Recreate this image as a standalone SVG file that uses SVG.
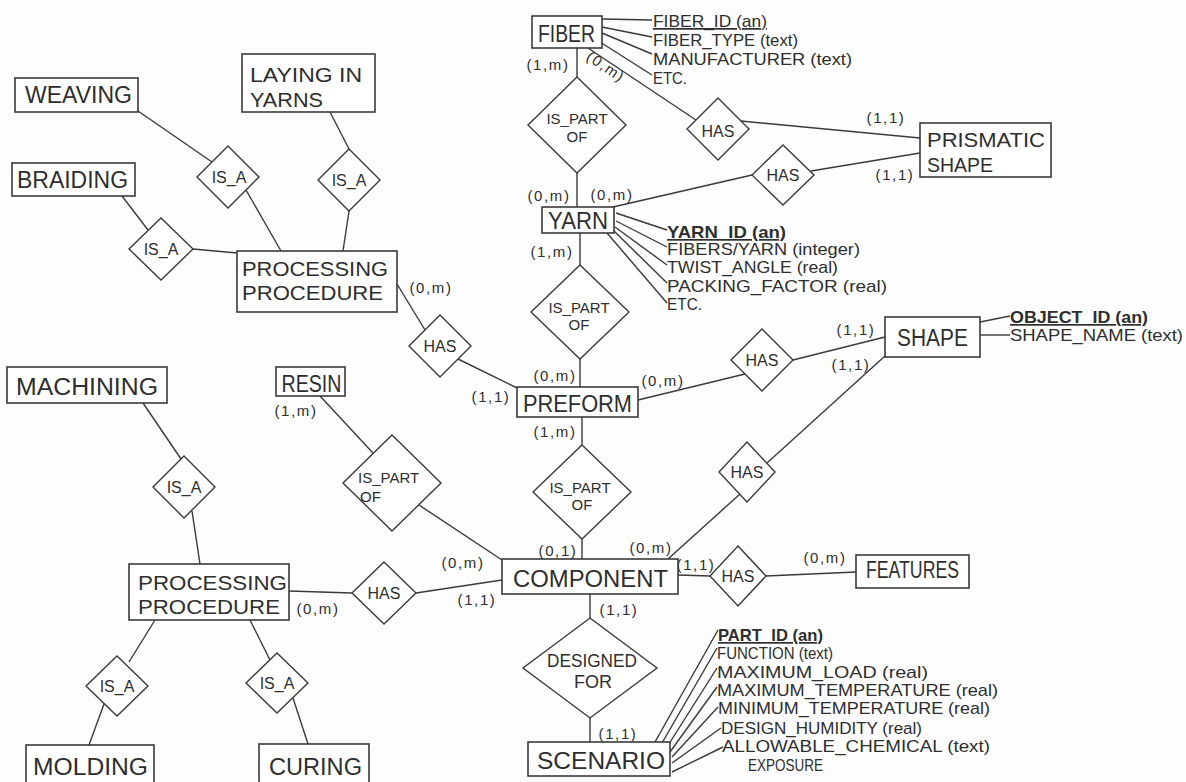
<svg xmlns="http://www.w3.org/2000/svg" width="1186" height="782" viewBox="0 0 1186 782">
<style>
text{font-family:"Liberation Sans",Arial,sans-serif;fill:#2e2e2e}
.e rect{fill:#fff;stroke:#3a3a3a;stroke-width:1.6}
.e text{font-size:23px}
.e text.t{font-size:20px}
.r polygon{fill:#fff;stroke:#3a3a3a;stroke-width:1.4}
.r text{font-size:16px;text-anchor:middle}
.r text.s{font-size:15px}
.conn line{stroke:#3a3a3a;stroke-width:1.4}
.k{font-size:15px;letter-spacing:1.6px;text-anchor:middle}
.a{font-size:17px}
.u{text-decoration:underline}
.b{font-weight:bold}
.m{text-anchor:middle}
</style>
<rect x="0" y="0" width="1186" height="782" fill="#fdfdfd"/>
<g id="connectors" class="conn">
<line x1="577" y1="48" x2="577" y2="77"/>
<line x1="577" y1="173" x2="577" y2="207"/>
<line x1="588" y1="48" x2="696" y2="120"/>
<line x1="741" y1="121" x2="920" y2="138"/>
<line x1="613" y1="207" x2="752" y2="175"/>
<line x1="811" y1="171" x2="920" y2="153"/>
<line x1="580" y1="233" x2="580" y2="265"/>
<line x1="580" y1="359" x2="580" y2="387"/>
<line x1="638" y1="400" x2="745" y2="374"/>
<line x1="793" y1="360" x2="885" y2="337"/>
<line x1="885" y1="356" x2="767" y2="463"/>
<line x1="740" y1="494" x2="668" y2="559"/>
<line x1="678" y1="575" x2="710" y2="576"/>
<line x1="766" y1="576" x2="856" y2="572"/>
<line x1="582" y1="417" x2="582" y2="445"/>
<line x1="582" y1="539" x2="582" y2="559"/>
<line x1="590" y1="594" x2="590" y2="618"/>
<line x1="590" y1="718" x2="590" y2="742"/>
<line x1="320" y1="396" x2="373" y2="453"/>
<line x1="419" y1="505" x2="502" y2="560"/>
<line x1="397" y1="284" x2="425" y2="330"/>
<line x1="458" y1="359" x2="517" y2="388"/>
<line x1="289" y1="591" x2="352" y2="593"/>
<line x1="416" y1="593" x2="502" y2="580"/>
<line x1="138" y1="111" x2="212" y2="162"/>
<line x1="246" y1="190" x2="281" y2="251"/>
<line x1="330" y1="112" x2="349" y2="149"/>
<line x1="349" y1="211" x2="343" y2="251"/>
<line x1="122" y1="196" x2="148" y2="230"/>
<line x1="193" y1="249" x2="237" y2="253"/>
<line x1="143" y1="403" x2="181" y2="459"/>
<line x1="192" y1="511" x2="200" y2="564"/>
<line x1="155" y1="620" x2="129" y2="662"/>
<line x1="104" y1="704" x2="89" y2="745"/>
<line x1="250" y1="620" x2="270" y2="660"/>
<line x1="293" y1="698" x2="308" y2="744"/>
<line x1="602" y1="19" x2="652" y2="20"/>
<line x1="602" y1="27" x2="652" y2="37"/>
<line x1="602" y1="33" x2="652" y2="54"/>
<line x1="600" y1="42" x2="652" y2="75"/>
<line x1="616" y1="213" x2="667" y2="230"/>
<line x1="616" y1="221" x2="667" y2="247"/>
<line x1="615" y1="227" x2="667" y2="265"/>
<line x1="614" y1="231" x2="667" y2="283"/>
<line x1="607" y1="233" x2="667" y2="303"/>
<line x1="980" y1="322" x2="1010" y2="316"/>
<line x1="980" y1="335" x2="1010" y2="335"/>
<line x1="655" y1="742" x2="718" y2="630"/>
<line x1="662" y1="743" x2="717" y2="648"/>
<line x1="667" y1="747" x2="717" y2="668"/>
<line x1="670" y1="752" x2="717" y2="687"/>
<line x1="672" y1="757" x2="718" y2="707"/>
<line x1="672" y1="763" x2="721" y2="728"/>
<line x1="672" y1="772" x2="723" y2="747"/>
</g>
<g id="cardinalities">
<text class="k" x="548" y="70">(1,m)</text>
<text class="k" transform="translate(603,71) rotate(34)">(0,m)</text>
<text class="k" x="549" y="201">(0,m)</text>
<text class="k" x="612" y="200">(0,m)</text>
<text class="k" x="552" y="257">(1,m)</text>
<text class="k" x="886" y="123">(1,1)</text>
<text class="k" x="895" y="180">(1,1)</text>
<text class="k" x="856" y="335">(1,1)</text>
<text class="k" x="851" y="370">(1,1)</text>
<text class="k" x="555" y="381">(0,m)</text>
<text class="k" x="663" y="386">(0,m)</text>
<text class="k" x="555" y="437">(1,m)</text>
<text class="k" x="431" y="293">(0,m)</text>
<text class="k" x="491" y="402">(1,1)</text>
<text class="k" x="558" y="556">(0,1)</text>
<text class="k" x="651" y="553">(0,m)</text>
<text class="k" x="463" y="568">(0,m)</text>
<text class="k" x="477" y="605">(1,1)</text>
<text class="k" x="619" y="615">(1,1)</text>
<text class="k" x="696" y="570">(1,1)</text>
<text class="k" x="825" y="563">(0,m)</text>
<text class="k" x="618" y="739">(1,1)</text>
<text class="k" x="296" y="416">(1,m)</text>
<text class="k" x="318" y="614">(0,m)</text>
</g>
<g id="attributes" class="a">
<text class="u" x="653" y="27" textLength="114" lengthAdjust="spacingAndGlyphs">FIBER_ID (an)</text>
<text x="653" y="46" textLength="145" lengthAdjust="spacingAndGlyphs">FIBER_TYPE (text)</text>
<text x="653" y="65" textLength="199" lengthAdjust="spacingAndGlyphs">MANUFACTURER (text)</text>
<text x="653" y="84" textLength="34" lengthAdjust="spacingAndGlyphs">ETC.</text>
<text class="u b" x="667" y="238" textLength="119" lengthAdjust="spacingAndGlyphs">YARN_ID (an)</text>
<text x="667" y="255" textLength="193" lengthAdjust="spacingAndGlyphs">FIBERS/YARN (integer)</text>
<text x="667" y="273" textLength="171" lengthAdjust="spacingAndGlyphs">TWIST_ANGLE (real)</text>
<text x="667" y="292" textLength="220" lengthAdjust="spacingAndGlyphs">PACKING_FACTOR (real)</text>
<text x="667" y="310" textLength="35" lengthAdjust="spacingAndGlyphs">ETC.</text>
<text class="u b" x="1010" y="323" textLength="138" lengthAdjust="spacingAndGlyphs">OBJECT_ID (an)</text>
<text x="1010" y="341" textLength="173" lengthAdjust="spacingAndGlyphs">SHAPE_NAME (text)</text>
<text class="u b" x="718" y="641" textLength="105" lengthAdjust="spacingAndGlyphs">PART_ID (an)</text>
<text x="717" y="659" textLength="116" lengthAdjust="spacingAndGlyphs">FUNCTION (text)</text>
<text x="717" y="678" textLength="211" lengthAdjust="spacingAndGlyphs">MAXIMUM_LOAD (real)</text>
<text x="717" y="696" textLength="281" lengthAdjust="spacingAndGlyphs">MAXIMUM_TEMPERATURE (real)</text>
<text x="718" y="714" textLength="272" lengthAdjust="spacingAndGlyphs">MINIMUM_TEMPERATURE (real)</text>
<text x="721" y="734" textLength="201" lengthAdjust="spacingAndGlyphs">DESIGN_HUMIDITY (real)</text>
<text x="722" y="752" textLength="268" lengthAdjust="spacingAndGlyphs">ALLOWABLE_CHEMICAL (text)</text>
<text x="748" y="771" textLength="75" lengthAdjust="spacingAndGlyphs">EXPOSURE</text>
</g>
<g id="fiber" class="e"><rect x="532" y="16" width="70" height="32"/><text class="m" x="566.5" y="42" textLength="57" lengthAdjust="spacingAndGlyphs">FIBER</text></g>
<g id="yarn" class="e"><rect x="542" y="207" width="72" height="26"/><text class="m" x="578" y="229" textLength="60" lengthAdjust="spacingAndGlyphs">YARN</text></g>
<g id="preform" class="e"><rect x="517" y="387" width="121" height="30"/><text class="m" x="577.5" y="412" textLength="109" lengthAdjust="spacingAndGlyphs">PREFORM</text></g>
<g id="component" class="e"><rect x="502" y="559" width="176" height="35"/><text class="m" x="590.5" y="587" textLength="155" lengthAdjust="spacingAndGlyphs">COMPONENT</text></g>
<g id="scenario" class="e"><rect x="528" y="742" width="142" height="34"/><text class="m" x="601" y="769" textLength="128" lengthAdjust="spacingAndGlyphs">SCENARIO</text></g>
<g id="shape" class="e"><rect x="885" y="317" width="95" height="40"/><text class="m" x="932.5" y="346" textLength="71" lengthAdjust="spacingAndGlyphs">SHAPE</text></g>
<g id="prismatic_shape" class="e"><rect x="920" y="123" width="131" height="54"/><text class="t" x="927" y="147" textLength="118" lengthAdjust="spacingAndGlyphs">PRISMATIC</text><text class="t" x="927" y="172" textLength="66" lengthAdjust="spacingAndGlyphs">SHAPE</text></g>
<g id="features" class="e"><rect x="856" y="555" width="113" height="33"/><text class="m" x="912.5" y="578" textLength="93" lengthAdjust="spacingAndGlyphs">FEATURES</text></g>
<g id="weaving" class="e"><rect x="15" y="78" width="123" height="34"/><text class="m" x="78.5" y="103" textLength="107" lengthAdjust="spacingAndGlyphs">WEAVING</text></g>
<g id="braiding" class="e"><rect x="12" y="163" width="123" height="33"/><text class="m" x="72.5" y="188" textLength="111" lengthAdjust="spacingAndGlyphs">BRAIDING</text></g>
<g id="laying_in_yarns" class="e"><rect x="242" y="54" width="133" height="58"/><text class="t" x="250" y="82" textLength="112" lengthAdjust="spacingAndGlyphs">LAYING IN</text><text class="t" x="250" y="107" textLength="73" lengthAdjust="spacingAndGlyphs">YARNS</text></g>
<g id="processing_procedure_1" class="e"><rect x="237" y="251" width="160" height="61"/><text class="t" x="242" y="276" textLength="146" lengthAdjust="spacingAndGlyphs">PROCESSING</text><text class="t" x="242" y="300" textLength="141" lengthAdjust="spacingAndGlyphs">PROCEDURE</text></g>
<g id="machining" class="e"><rect x="7" y="367" width="160" height="36"/><text class="m" x="87" y="395" textLength="142" lengthAdjust="spacingAndGlyphs">MACHINING</text></g>
<g id="resin" class="e"><rect x="276" y="367" width="69" height="29"/><text class="m" x="311.5" y="392" textLength="60" lengthAdjust="spacingAndGlyphs">RESIN</text></g>
<g id="processing_procedure_2" class="e"><rect x="129" y="564" width="160" height="56"/><text class="t" x="138" y="590" textLength="149" lengthAdjust="spacingAndGlyphs">PROCESSING</text><text class="t" x="138" y="614" textLength="142" lengthAdjust="spacingAndGlyphs">PROCEDURE</text></g>
<g id="molding" class="e"><rect x="26" y="745" width="128" height="45"/><text class="m" x="90.5" y="775" textLength="115" lengthAdjust="spacingAndGlyphs">MOLDING</text></g>
<g id="curing" class="e"><rect x="259" y="744" width="110" height="45"/><text class="m" x="315.5" y="775" textLength="93" lengthAdjust="spacingAndGlyphs">CURING</text></g>
<g id="r_fiber_yarn" class="r"><polygon points="577,77 626,125 577,173 528,125"/><text class="s" x="577" y="124">IS_PART</text><text class="s" x="577" y="142">OF</text></g>
<g id="r_fiber_prismatic" class="r"><polygon points="718,98 749,129 718,160 687,129"/><text x="718" y="137">HAS</text></g>
<g id="r_yarn_prismatic" class="r"><polygon points="783,145 814,175 783,205 752,175"/><text x="783" y="181">HAS</text></g>
<g id="r_yarn_preform" class="r"><polygon points="580,265 629,312 580,359 531,312"/><text class="s" x="579" y="313">IS_PART</text><text class="s" x="579" y="330">OF</text></g>
<g id="r_preform_shape" class="r"><polygon points="762,329 793,360 762,391 731,360"/><text x="762" y="366">HAS</text></g>
<g id="r_proc_preform" class="r"><polygon points="440,315 471,346 440,377 409,346"/><text x="440" y="352">HAS</text></g>
<g id="r_preform_component" class="r"><polygon points="582,445 631,492 582,539 533,492"/><text class="s" x="580" y="493">IS_PART</text><text class="s" x="582" y="510">OF</text></g>
<g id="r_resin_component" class="r"><polygon points="392,435 441,483 392,531 343,483"/><text class="s" x="358" y="483" style="text-anchor:start">IS_PART</text><text class="s" x="360" y="502" style="text-anchor:start">OF</text></g>
<g id="r_component_shape" class="r"><polygon points="747,442 775,472 747,502 719,472"/><text x="747" y="478">HAS</text></g>
<g id="r_component_features" class="r"><polygon points="738,546 766,576 738,606 710,576"/><text x="738" y="582">HAS</text></g>
<g id="r_proc_component" class="r"><polygon points="384,562 416,593 384,624 352,593"/><text x="384" y="599">HAS</text></g>
<g id="r_designed_for" class="r"><polygon points="590,618 657,668 590,718 523,668"/><text x="592" y="667" style="font-size:18px" textLength="90" lengthAdjust="spacingAndGlyphs">DESIGNED</text><text x="593" y="688" style="font-size:18px">FOR</text></g>
<g id="isa_weaving" class="r"><polygon points="228,146 259,177 228,208 197,177"/><text x="229" y="183">IS_A</text></g>
<g id="isa_laying" class="r"><polygon points="349,149 380,180 349,211 318,180"/><text x="349" y="186">IS_A</text></g>
<g id="isa_braiding" class="r"><polygon points="161,218 193,249 161,280 129,249"/><text x="161" y="255">IS_A</text></g>
<g id="isa_machining" class="r"><polygon points="184,456 215,487 184,518 153,487"/><text x="184" y="493">IS_A</text></g>
<g id="isa_molding" class="r"><polygon points="117,656 148,686 117,716 86,686"/><text x="117" y="692">IS_A</text></g>
<g id="isa_curing" class="r"><polygon points="277,653 308,683 277,713 246,683"/><text x="277" y="689">IS_A</text></g>
</svg>
